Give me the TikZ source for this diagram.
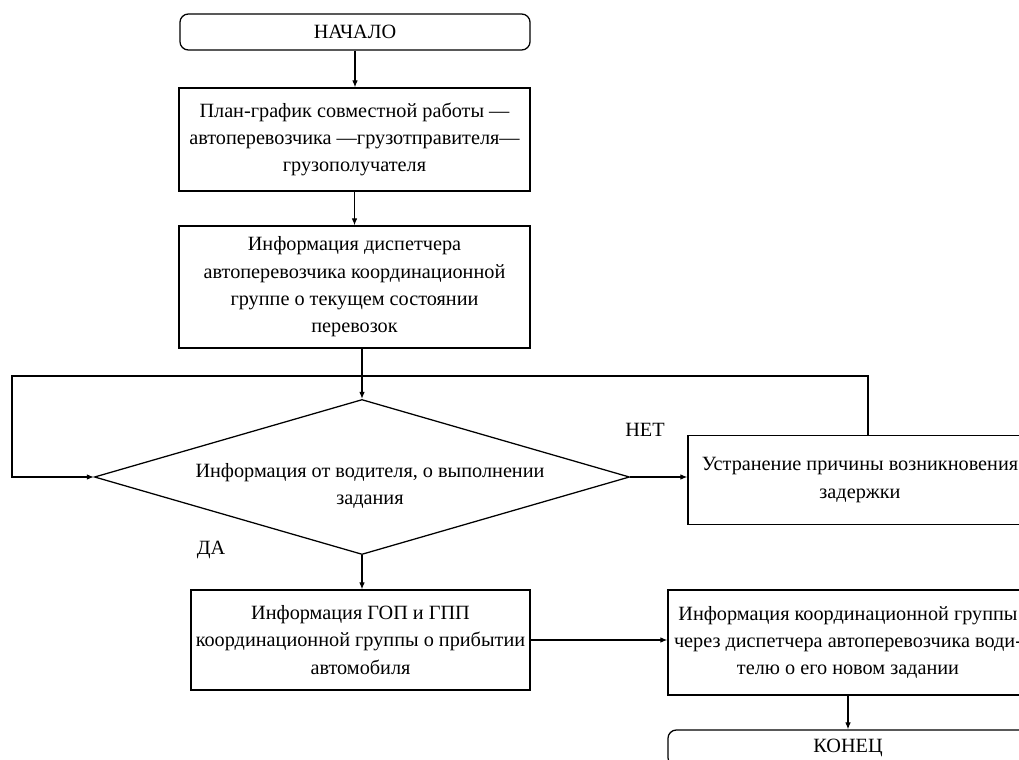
\documentclass[tikz,border=0pt]{standalone}
\usepackage{fontspec}
\setmainfont{Liberation Serif}
\usetikzlibrary{shapes.geometric,arrows.meta,calc}

\begin{document}
\begin{tikzpicture}[x=0.025cm,y=-0.025cm,
  box/.style={draw,line width=0.9pt,align=center,inner sep=2pt},
  term/.style={box,rounded corners=6pt},
  cond/.style={draw,line width=0.9pt,diamond,aspect=3.45,inner sep=0pt},
  flow/.style={line width=0.8pt,-{Latex[length=5pt,width=4pt]}},
  font=\fontsize{14.4}{19.5}\selectfont]

\useasboundingbox (0,0) rectangle (1019,760);

% Start
 \node[term,minimum width=8.75cm,minimum height=0.9cm] (start) at (355,32) {НАЧАЛО};

% Plan and dispatcher
 \node[box,minimum width=8.775cm,minimum height=2.575cm] (plan) at (354.5,139.5)
   {План-график совместной работы —\\автоперевозчика —грузотправителя—\\грузополучателя};
 \node[box,minimum width=8.775cm,minimum height=3.05cm] (info) at (354.5,287)
   {Информация диспетчера\\автоперевозчика координационной\\группе о текущем состоянии\\перевозок};

% Decision
 \node[cond,minimum width=13.375cm,minimum height=3.875cm] (check) at (362,477) {};
 \node[align=center] (checktext) at (370,486) {Информация от водителя, о выполнении\\задания};
 \node at (645,430) (no) {НЕТ};
 \node at (211,550) (yes) {ДА};
 \node[box,minimum width=8.6cm,minimum height=2.225cm] (fix) at (860,480)
   {Устранение причины возникновения\\задержки};

% Arrival and new task
 \node[box,minimum width=8.475cm,minimum height=2.5cm] (arrival) at (360.5,640)
   {Информация ГОП и ГПП\\координационной группы о прибытии\\автомобиля};
 \node[box,minimum width=9cm,minimum height=2.625cm] (newtask) at (848,642.5)
   {Информация координационной группы\\через диспетчера автоперевозчика води-\\телю о его новом задании};

% End
 \node[term,minimum width=9cm,minimum height=0.9cm] (finish) at (848,748) {КОНЕЦ};

% Loop corners
 \coordinate (loopR) at (868,376);
 \coordinate (loopL) at (12,376);

% Arrows
 \draw[flow] (start.south) -- (start.south |- plan.north);
 \draw[flow] (plan.south) -- (plan.south |- info.north);
 \draw[flow] (info.south -| check.north) -- (check.north);
 \draw[flow] (check.east) -- (check.east -| fix.west);
 \draw[flow] (fix.north -| loopR) -- (loopR) -- (loopL) |- (check.west);
 \draw[flow] (check.south) -- (check.south |- arrival.north);
 \draw[flow] (arrival.east) -- (arrival.east -| newtask.west);
 \draw[flow] (newtask.south) -- (finish.north);

\end{tikzpicture}
\end{document}
